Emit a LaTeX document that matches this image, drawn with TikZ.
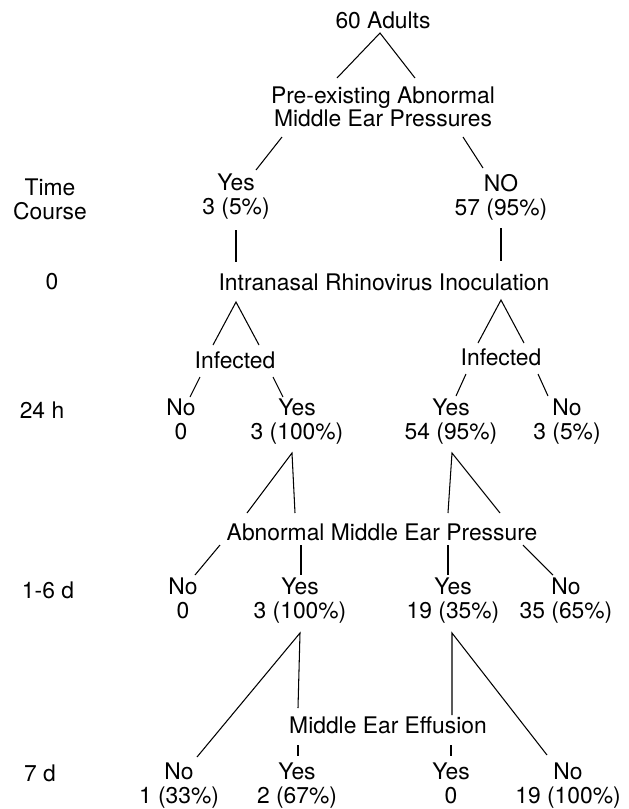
\documentclass[tikz,border=0pt]{standalone}
\usepackage{fontspec}
\setmainfont{TeX Gyre Heros}

\tikzstyle{lbl} = [align=center, inner sep=1pt, font=\fontsize{13}{13.6}\selectfont]
\tikzstyle{link} = [line width=0.6pt]

\begin{document}
\begin{tikzpicture}[x=0.02cm, y=-0.02cm]
    \useasboundingbox (0,0) rectangle (629,809);

    % time course column
    \node (time) [lbl] at (50,199) {Time\\Course};
    \node (t0) [lbl] at (52,282) {0};
    \node (t24) [lbl] at (42,410) {24 h};
    \node (t16) [lbl] at (48,590) {1-6 d};
    \node (t7) [lbl] at (40,773) {7 d};

    % tree
    \node (adults) [lbl] at (383,20) {60 Adults};
    \node (pre) [lbl] at (383,107) {Pre-existing Abnormal\\[-0.5pt]Middle Ear Pressures};
    \node (yes1) [lbl] at (236,197) {Yes\\3 (5\%)};
    \node (no1) [lbl] at (501,197) {NO\\57 (95\%)};
    \node (inoc) [lbl] at (384,282) {Intranasal Rhinovirus Inoculation};
    \node (infL) [lbl] at (235,360) {Infected};
    \node (infR) [lbl] at (501,357) {Infected};
    \node (noA) [lbl] at (181,422) {No\\0\vphantom{(}};
    \node (yesA) [lbl] at (297,422) {Yes\\3 (100\%)};
    \node (yesB) [lbl] at (451,422) {Yes\\54 (95\%)};
    \node (noB) [lbl] at (567,422) {No\\3 (5\%)};
    \node (amep) [lbl] at (382,532) {Abnormal Middle Ear Pressure};
    \node (noC) [lbl] at (183,601) {No\\0\vphantom{(}};
    \node (yesC) [lbl] at (300,601) {Yes\\3 (100\%)};
    \node (yesD) [lbl] at (453,601) {Yes\\19 (35\%)};
    \node (noD) [lbl] at (566,601) {No\\35 (65\%)};
    \node (mee) [lbl] at (388,725) {Middle Ear Effusion};
    \node (noE) [lbl] at (179,786) {No\\1 (33\%)};
    \node (yesE) [lbl] at (297,786) {Yes\\2 (67\%)};
    \node (yesF) [lbl] at (451,786) {Yes\\0\vphantom{(}};
    \node (noF) [lbl] at (568,786) {No\\19 (100\%)};

    \draw [link] ([shift={(-46,-29)}]pre.center) -- ([shift={(-3,13)}]adults.center) -- ([shift={(32,-29)}]pre.center);
    \draw [link] ([shift={(-101,30)}]pre.center) -- ([shift={(20,-27)}]yes1.center);
    \draw [link] ([shift={(80,30)}]pre.center) -- ([shift={(-18,-29)}]no1.center);
    \draw [link] ([shift={(0,33)}]yes1.center) -- ([shift={(-148,-20)}]inoc.center);
    \draw [link] ([shift={(0,31)}]no1.center) -- ([shift={(117,-21)}]inoc.center);
    \draw [link] ([shift={(-22,-15)}]infL.center) -- ([shift={(-148,20)}]inoc.center) -- ([shift={(24,-15)}]infL.center);
    \draw [link] ([shift={(-23,-14)}]infR.center) -- ([shift={(117,18)}]inoc.center) -- ([shift={(23,-14)}]infR.center);
    \draw [link] ([shift={(-35,17)}]infL.center) -- ([shift={(9,-25)}]noA.center);
    \draw [link] ([shift={(38,17)}]infL.center) -- ([shift={(-14,-25)}]yesA.center);
    \draw [link] ([shift={(-35,17)}]infR.center) -- ([shift={(5,-26)}]yesB.center);
    \draw [link] ([shift={(37,17)}]infR.center) -- ([shift={(-19,-26)}]noB.center);
    \draw [link] ([shift={(-135,-19)}]amep.center) -- ([shift={(-5,31)}]yesA.center) -- ([shift={(-87,-19)}]amep.center);
    \draw [link] ([shift={(66,-19)}]amep.center) -- ([shift={(1,31)}]yesB.center) -- ([shift={(118,-19)}]amep.center);
    \draw [link] ([shift={(-162,13)}]amep.center) -- ([shift={(12,-26)}]noC.center);
    \draw [link] ([shift={(-81,13)}]amep.center) -- ([shift={(1,-26)}]yesC.center);
    \draw [link] ([shift={(66,13)}]amep.center) -- ([shift={(-5,-26)}]yesD.center);
    \draw [link] ([shift={(141,13)}]amep.center) -- ([shift={(-13,-26)}]noD.center);
    \draw [link] ([shift={(18,-29)}]noE.center) -- ([shift={(0,32)}]yesC.center) -- ([shift={(-90,-17)}]mee.center);
    \draw [link] ([shift={(64,-10)}]mee.center) -- ([shift={(-1,32)}]yesD.center) -- ([shift={(-21,-31)}]noF.center);
    \draw [link] ([shift={(-90,20)}]mee.center) -- ([shift={(1,-30)}]yesE.center);
    \draw [link] ([shift={(63,20)}]mee.center) -- ([shift={(0,-30)}]yesF.center);
\end{tikzpicture}
\end{document}
